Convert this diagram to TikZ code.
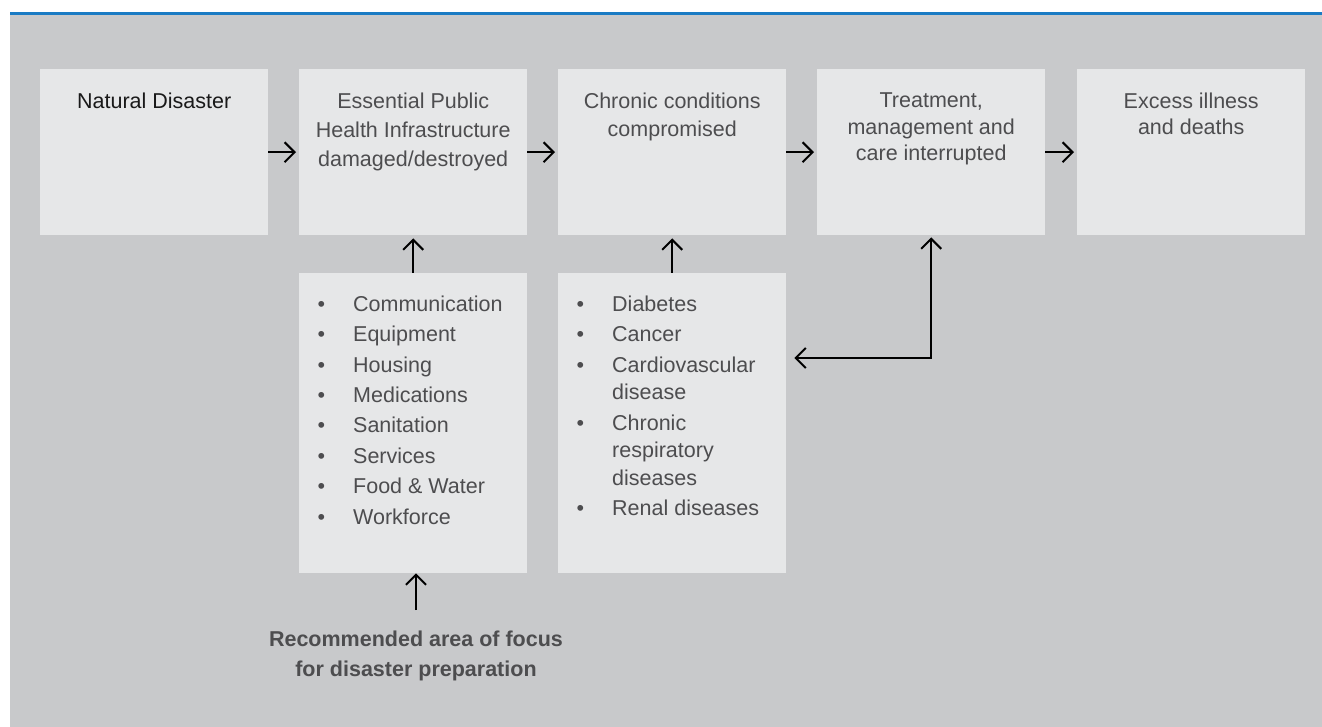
\documentclass[tikz,border=0pt]{standalone}
\usepackage{fontspec}
\setmainfont{Liberation Sans}
\usetikzlibrary{arrows.meta,calc}
\definecolor{bggray}{HTML}{C8C9CB}
\definecolor{boxgray}{HTML}{E6E7E8}
\definecolor{topblue}{HTML}{1A7BC4}
\definecolor{txtgray}{HTML}{4D4D4F}
\tikzset{
	box/.style={fill=boxgray, anchor=north west, inner sep=0pt, minimum width=228pt, minimum height=166pt},
	listbox/.style={box, minimum height=300pt},
	boxtext/.style={anchor=north, inner sep=0pt, yshift=-24pt, align=center, text=txtgray, font=\fontsize{21.5}{#1}\selectfont},
	boxtext/.default=29,
	listtext/.style={anchor=north west, inner sep=0pt, xshift=18.5pt, yshift=-22.5pt, align=left, text=txtgray, font=\fontsize{21.5}{#1}\selectfont},
	listtext/.default=30.4,
	arr/.style={line width=2pt, -{Straight Barb[length=10pt,width=20pt]}, shorten >=3pt},
}
\newcommand{\bul}{\makebox[35.5pt][l]{\textbullet}}
\newcommand{\ind}{\hspace*{35.5pt}}

\begin{document}
\begin{tikzpicture}[x=1pt,y=-1pt]
		%%%%% START %%%%%
		
		\useasboundingbox (0,0) rectangle (1322,727);
		\fill[bggray] (10,15) rectangle (1322,727);
		\fill[topblue] (10,12) rectangle (1322,15);
		
		% top row
		\node[box, label={[boxtext, text=black!90]north:Natural Disaster}] (nat) at (40,69) {};
		\node[box, label={[boxtext]north:Essential Public\\Health Infrastructure\\damaged/destroyed}] (infra) at (299,69) {};
		\node[box, label={[boxtext=28]north:Chronic conditions\\compromised}] (chronic) at (558,69) {};
		\node[box, label={[boxtext=26.5]north:Treatment,\\management and\\care interrupted}] (treat) at (817,69) {};
		\node[box, label={[boxtext=25.5]north:Excess illness\\and deaths}] (excess) at (1077,69) {};
		
		% lists
		\node[listbox, label={[listtext]north west:\bul Communication\\\bul Equipment\\\bul Housing\\\bul Medications\\\bul Sanitation\\\bul Services\\\bul Food \& Water\\\bul Workforce}] (infralist) at (299,273) {};
		\node[listbox, label={[listtext=27.5]north west:\bul Diabetes\\[3pt]\bul Cancer\\[3pt]\bul Cardiovascular\\\ind disease\\[3pt]\bul Chronic\\\ind respiratory\\\ind diseases\\[3pt]\bul Renal diseases}] (chroniclist) at (558,273) {};
		
		\node[anchor=north, inner sep=0pt, align=center, text=txtgray, font=\bfseries\fontsize{21.5}{30}\selectfont] (focus) at (416,630.5) {Recommended area of focus\\for disaster preparation};
		
		% arrows
		\draw[arr] (nat) -- (infra);
		\draw[arr] (infra) -- (chronic);
		\draw[arr] (chronic) -- (treat);
		\draw[arr] (treat) -- (excess);
		\draw[arr] (infralist.north) -- (infra.south);
		\draw[arr] (chroniclist.north) -- (chronic.south);
		\draw[arr, shorten >=0pt, shorten <=20.5pt] (focus.north) -- (focus.north |- infralist.south);
		\draw[arr, {Straight Barb[length=10pt,width=20pt]}-{Straight Barb[length=10pt,width=20pt]}, shorten <=2pt, shorten >=8pt] (treat.south) |- ($(chroniclist.north east)+(0,85)$);
		
		%%%%% END %%%%%
	\end{tikzpicture}
\end{document}
